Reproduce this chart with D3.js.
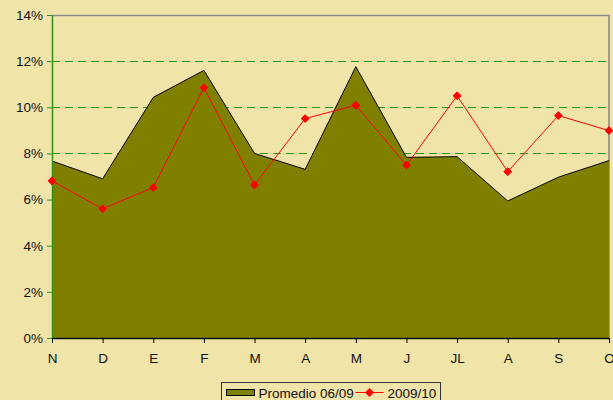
<!DOCTYPE html>
<html>
<head>
<meta charset="utf-8">
<script src="https://cdn.jsdelivr.net/npm/d3@7"></script>
<style>
  body { margin: 0; background: #f0e4a8; }
  svg { display: block; font-family: "Liberation Sans", Arial, sans-serif; }
</style>
</head>
<body>
<div id="chart"></div>
<script>
const months = ["N", "D", "E", "F", "M", "A", "M", "J", "JL", "A", "S", "O"];
const promedio = [7.67, 6.9, 10.43, 11.6, 8.0, 7.31, 11.76, 7.83, 7.86, 5.94, 6.97, 7.69];
const season = [6.81, 5.6, 6.52, 10.85, 6.63, 9.51, 10.09, 7.49, 10.5, 7.21, 9.64, 8.99];
const yTicks = [0, 2, 4, 6, 8, 10, 12, 14];
const gridVals = [8, 10, 12];

const width = 613, height = 400;
const m = { left: 52, right: 4, top: 15, bottom: 62 };
const green = "#2a9418";

const svg = d3.select("#chart").append("svg").attr("width", width).attr("height", height);
svg.append("rect").attr("width", width).attr("height", height).attr("fill", "#f0e4a8");

const x = d3.scalePoint().domain(d3.range(months.length)).range([m.left, width - m.right]);
const y = d3.scaleLinear().domain([0, 14]).range([height - m.bottom, m.top]);
const crisp = v => Math.round(v) + 0.5;

// dashed grid
svg.append("g").selectAll("line").data(gridVals).join("line")
    .attr("x1", m.left).attr("x2", width - m.right)
    .attr("y1", d => crisp(y(d))).attr("y2", d => crisp(y(d)))
    .attr("stroke", green).attr("stroke-width", 1).attr("stroke-dasharray", "8,5")
    .attr("shape-rendering", "crispEdges");

// plot border top/right
svg.append("path")
    .attr("d", `M${m.left},${crisp(y(14))}H${width - m.right}V${y(0)}`)
    .attr("fill", "none").attr("stroke", "#888").attr("stroke-width", 1.5);

// area
const area = d3.area().x((d, i) => x(i)).y0(y(0)).y1(d => y(d));
svg.append("path").datum(promedio).attr("d", area).attr("fill", "#808000");
svg.append("path").datum(promedio)
    .attr("d", d3.line().x((d, i) => x(i)).y(d => y(d)))
    .attr("fill", "none").attr("stroke", "#000").attr("stroke-width", 1);

// y axis
const yAxis = svg.append("g").attr("transform", `translate(${m.left},0)`)
    .call(d3.axisLeft(y).tickValues(yTicks).tickFormat(d => d + "%").tickSize(5).tickSizeOuter(0));
yAxis.select(".domain").attr("stroke", green).attr("stroke-width", 1.5);
yAxis.selectAll(".tick line").attr("stroke", green);
yAxis.selectAll("text").attr("font-size", 13.5).attr("fill", "#111").attr("x", -9)
    .attr("font-family", "Liberation Sans, Arial, sans-serif");

// x axis
const xAxis = svg.append("g").attr("transform", `translate(0,${y(0)})`)
    .call(d3.axisBottom(x).tickFormat(i => months[i]).tickSize(5).tickSizeOuter(0));
xAxis.select(".domain").attr("stroke", "#000").attr("stroke-width", 1.5);
xAxis.selectAll(".tick line").attr("stroke", "#000");
xAxis.selectAll("text").attr("font-size", 13.5).attr("fill", "#111").attr("y", 15)
    .attr("font-family", "Liberation Sans, Arial, sans-serif");

// 2009/10 line
svg.append("path").datum(season)
    .attr("d", d3.line().x((d, i) => x(i)).y(d => y(d)))
    .attr("fill", "none").attr("stroke", "#ff0000").attr("stroke-width", 1);
const marker = d3.symbol().type(d3.symbolSquare).size(26);
svg.append("g").selectAll("path").data(season).join("path")
    .attr("d", marker)
    .attr("transform", (d, i) => `translate(${x(i)},${y(d)}) rotate(45)`)
    .attr("fill", "#ff0000").attr("stroke", "#ff0000").attr("stroke-width", 1.2)
    .attr("stroke-linejoin", "round");

// legend
const lg = svg.append("g").attr("transform", "translate(221.5,382.5)");
lg.append("rect").attr("width", 219).attr("height", 24)
    .attr("fill", "#f0e4a8").attr("stroke", "#333").attr("stroke-width", 1);
lg.append("rect").attr("x", 5).attr("y", 7).attr("width", 28).attr("height", 6)
    .attr("fill", "#808000").attr("stroke", "#000");
lg.append("text").attr("x", 37).attr("y", 15).attr("font-size", 13.5).attr("fill", "#111").text("Promedio 06/09");
lg.append("line").attr("x1", 134).attr("x2", 162).attr("y1", 10).attr("y2", 10)
    .attr("stroke", "#ff0000").attr("stroke-width", 1);
lg.append("path").attr("d", marker).attr("transform", "translate(148,10) rotate(45)")
    .attr("fill", "#ff0000").attr("stroke", "#ff0000").attr("stroke-width", 1.2);
lg.append("text").attr("x", 166).attr("y", 15).attr("font-size", 13.5).attr("fill", "#111").text("2009/10");
</script>
</body>
</html>
